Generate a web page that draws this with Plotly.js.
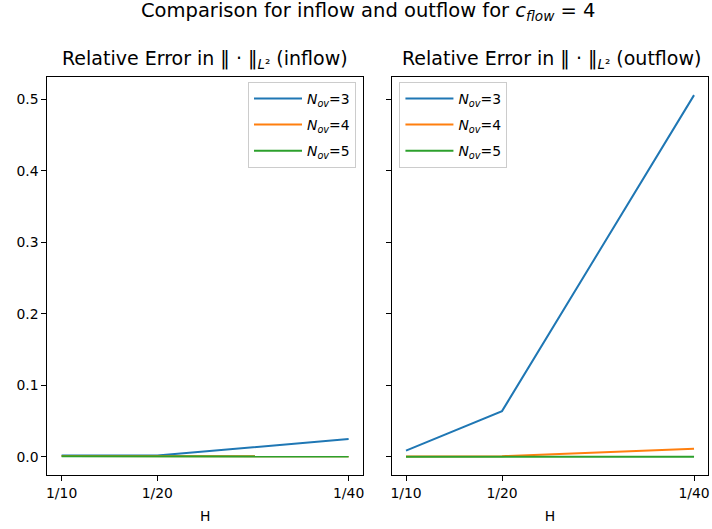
<!DOCTYPE html>
<html>
<head>
<meta charset="utf-8">
<script src="https://cdn.plot.ly/plotly-3.0.1.min.js"></script>
<style>html,body{margin:0;padding:0;background:#fff;}#chart{width:712px;height:529px;}</style>
</head>
<body>
<div id="chart"></div>
<script>
// Data
const H = [10, 20, 40];
const tickLabels = ['1/10', '1/20', '1/40'];
const seriesNames = ['<i>N</i><sub><i>ov</i></sub>=3', '<i>N</i><sub><i>ov</i></sub>=4', '<i>N</i><sub><i>ov</i></sub>=5'];
const colors = ['#1f77b4', '#ff7f0e', '#2ca02c'];
const inflowN3 = [0.0020, 0.0020, 0.0250];
const inflowN4 = [0.0012, 0.0010, 0.0010];
const inflowN5 = [0.0010, 0.0008, 0.0005];
const outflowN3 = [0.0088, 0.0640, 0.5060];
const outflowN4 = [0.0005, 0.0010, 0.0115];
const outflowN5 = [0.0003, 0.0003, 0.0003];

const inflow = [inflowN3, inflowN4, inflowN5];
const outflow = [outflowN3, outflowN4, outflowN5];

const font = 'DejaVu Sans, sans-serif';
const traces = [];
inflow.forEach((ys, i) => traces.push({
  x: H, y: ys, type: 'scatter', mode: 'lines', name: seriesNames[i],
  line: {color: colors[i], width: 2}, xaxis: 'x', yaxis: 'y', legend: 'legend',
  legendgroup: 'in' + i
}));
outflow.forEach((ys, i) => traces.push({
  x: H, y: ys, type: 'scatter', mode: 'lines', name: seriesNames[i],
  line: {color: colors[i], width: 2}, xaxis: 'x2', yaxis: 'y2', legend: 'legend2',
  legendgroup: 'out' + i
}));

const axisCommon = {
  showline: true, mirror: true, linecolor: '#000', linewidth: 1,
  ticks: 'outside', ticklen: 5, tickwidth: 1, tickcolor: '#000',
  showgrid: false, zeroline: false,
  tickfont: {family: font, size: 13.9, color: '#000'}
};
const xCommon = Object.assign({}, axisCommon, {
  range: [8.5, 41.5], tickvals: H, ticktext: tickLabels,
  title: {text: 'H', font: {family: font, size: 13.9, color: '#000'}, standoff: 11}
});
const yRange = [-0.0253, 0.5313];

const legendCommon = {
  font: {family: font, size: 13.9, color: '#000'},
  bgcolor: 'rgba(255,255,255,0.8)', bordercolor: '#cccccc', borderwidth: 1,
  traceorder: 'grouped', tracegroupgap: 5, itemwidth: 48,
  yanchor: 'top', y: 0.845
};

const layout = {
  width: 712, height: 529,
  margin: {l: 0, r: 0, t: 0, b: 0},
  paper_bgcolor: '#fff', plot_bgcolor: '#fff',
  font: {family: font, color: '#000'},
  xaxis: Object.assign({}, xCommon, {domain: [0.0664, 0.5098], anchor: 'y'}),
  xaxis2: Object.assign({}, xCommon, {domain: [0.550, 0.995], anchor: 'y2'}),
  yaxis: Object.assign({}, axisCommon, {domain: [0.1021, 0.8544], range: yRange, dtick: 0.1, tickformat: '.1f', anchor: 'x'}),
  yaxis2: Object.assign({}, axisCommon, {domain: [0.1021, 0.8544], range: yRange, dtick: 0.1, showticklabels: false, anchor: 'x2', matches: 'y'}),
  legend: Object.assign({}, legendCommon, {xanchor: 'right', x: 0.500}),
  legend2: Object.assign({}, legendCommon, {xanchor: 'left', x: 0.561}),
  annotations: [
    {text: 'Comparison for inflow and outflow for <i>c</i><sub><i>flow</i></sub> = 4', xref: 'paper', yref: 'paper',
     x: 0.517, y: 0.978, xanchor: 'center', yanchor: 'middle', showarrow: false,
     font: {family: font, size: 19.5, color: '#000'}},
    {text: 'Relative Error in ‖ · ‖<sub><i>L</i>²</sub> (inflow)', xref: 'paper', yref: 'paper',
     x: 0.2875, y: 0.888, xanchor: 'center', yanchor: 'middle', showarrow: false,
     font: {family: font, size: 19, color: '#000'}},
    {text: 'Relative Error in ‖ · ‖<sub><i>L</i>²</sub> (outflow)', xref: 'paper', yref: 'paper',
     x: 0.7749, y: 0.888, xanchor: 'center', yanchor: 'middle', showarrow: false,
     font: {family: font, size: 19, color: '#000'}}
  ]
};

Plotly.newPlot('chart', traces, layout, {displayModeBar: false, staticPlot: true});
</script>
</body>
</html>
